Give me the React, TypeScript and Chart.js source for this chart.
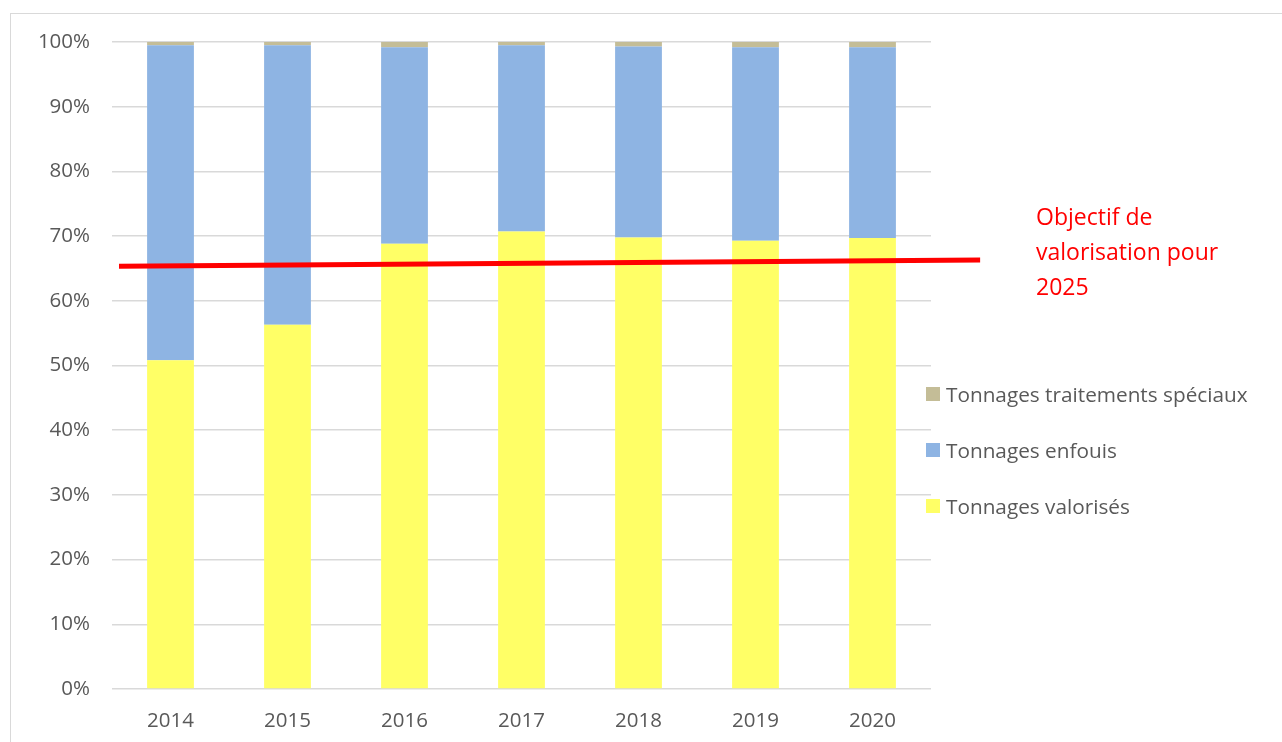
import React, { useEffect, useRef } from "react";
import { Chart, registerables } from "chart.js";

Chart.register(...registerables);

const years = ["2014", "2015", "2016", "2017", "2018", "2019", "2020"];
const valorises = [50.8, 56.3, 68.8, 70.7, 69.8, 69.3, 69.7];
const enfouis = [48.7, 43.2, 30.4, 28.8, 29.5, 29.9, 29.5];
const speciaux = [0.5, 0.5, 0.8, 0.5, 0.7, 0.8, 0.8];
const yTicks = [0, 10, 20, 30, 40, 50, 60, 70, 80, 90, 100];

// objective line: from/to as category positions and percent values
const objectiveFromIndex = -0.44;
const objectiveToIndex = 6.92;
const objectiveFromValue = 65.35;
const objectiveToValue = 66.3;

const objectiveLines = ["Objectif de", "valorisation pour", "2025"];

const seriesNames = ["Tonnages valorisés", "Tonnages enfouis", "Tonnages traitements spéciaux"];
const seriesColors = ["#FFFF66", "#8EB4E3", "#C4BD97"];

const FONT = "'Open Sans', 'Noto Sans', sans-serif";
const TEXT = "#595959";

const objectivePlugin = {
  id: "objectiveLine",
  afterDatasetsDraw(chart: any) {
    const x = chart.scales.x;
    const y = chart.scales.y;
    const p0 = x.getPixelForValue(0);
    const step = x.getPixelForValue(1) - p0;
    const ctx = chart.ctx;
    ctx.save();
    ctx.strokeStyle = "#FF0000";
    ctx.lineWidth = 5;
    ctx.beginPath();
    ctx.moveTo(p0 + objectiveFromIndex * step, y.getPixelForValue(objectiveFromValue));
    ctx.lineTo(p0 + objectiveToIndex * step, y.getPixelForValue(objectiveToValue));
    ctx.stroke();
    ctx.restore();
  },
};

export default function App() {
  const ref = useRef<HTMLCanvasElement | null>(null);

  useEffect(() => {
    if (!ref.current) return;
    const chart = new Chart(ref.current, {
      type: "bar",
      data: {
        labels: years,
        datasets: [
          { label: seriesNames[0], data: valorises, backgroundColor: seriesColors[0] },
          { label: seriesNames[1], data: enfouis, backgroundColor: seriesColors[1] },
          { label: seriesNames[2], data: speciaux, backgroundColor: seriesColors[2] },
        ],
      },
      options: {
        animation: false,
        responsive: false,
        devicePixelRatio: 1,
        layout: { padding: { left: 12, right: 351, top: 42, bottom: 8 } },
        datasets: { bar: { categoryPercentage: 1, barPercentage: 0.4 } } as any,
        plugins: { legend: { display: false }, tooltip: { enabled: false } },
        scales: {
          x: {
            stacked: true,
            grid: { display: false, drawTicks: false },
            border: { display: false },
            ticks: { color: TEXT, font: { family: FONT, size: 20.5 }, padding: 20 },
            afterFit: (s: any) => {
              s.height = 45;
            },
          },
          y: {
            stacked: true,
            min: 0,
            max: 100,
            afterBuildTicks: (s: any) => {
              s.ticks = yTicks.map((v) => ({ value: v }));
            },
            grid: { color: "#D9D9D9", lineWidth: 1.5, drawTicks: false },
            border: { display: false },
            ticks: {
              color: TEXT,
              font: { family: FONT, size: 20.5 },
              padding: 22,
              callback: (v: any) => v + "%",
            },
            afterFit: (s: any) => {
              s.width = 100;
            },
          },
        },
      },
      plugins: [objectivePlugin],
    });
    return () => chart.destroy();
  }, []);

  const legendItems = [2, 1, 0];
  const legendTops = [393.5, 449.5, 506];

  return (
    <div style={{ position: "fixed", left: 0, top: 0, width: 1282, height: 742, background: "#fff", overflow: "hidden" }}>
      <div
        style={{
          position: "absolute",
          left: 10,
          top: 13,
          width: 1400,
          height: 900,
          border: "1.5px solid #D9D9D9",
          boxSizing: "border-box",
        }}
      />
      <canvas ref={ref} width={1282} height={742} style={{ position: "absolute", left: 0, top: 0 }} />
      {legendItems.map((si, k) => (
        <div
          key={si}
          style={{
            position: "absolute",
            left: 926,
            top: legendTops[k] - 14,
            height: 28,
            display: "flex",
            alignItems: "center",
            fontFamily: FONT,
            fontSize: 20.75,
            color: TEXT,
            whiteSpace: "nowrap",
          }}
        >
          <span style={{ display: "inline-block", width: 14, height: 14, background: seriesColors[si], marginRight: 6 }} />
          <span>{seriesNames[si]}</span>
        </div>
      ))}
      <div
        style={{
          position: "absolute",
          left: 1036,
          top: 199,
          fontFamily: FONT,
          fontSize: 23,
          lineHeight: "35px",
          color: "#FF0000",
          whiteSpace: "nowrap",
        }}
      >
        {objectiveLines.map((l) => (
          <div key={l}>{l}</div>
        ))}
      </div>
    </div>
  );
}
